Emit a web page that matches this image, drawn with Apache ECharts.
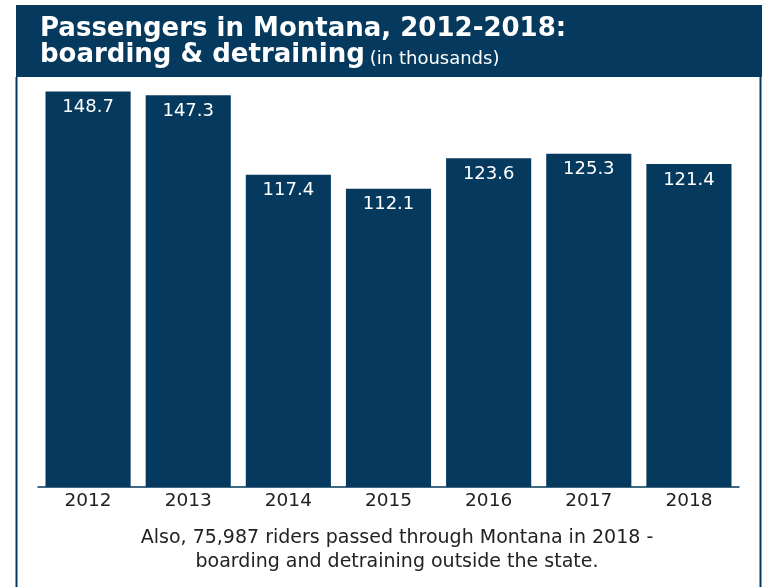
<!DOCTYPE html>
<html>
<head>
<meta charset="utf-8">
<script src="https://cdn.jsdelivr.net/npm/echarts@6/dist/echarts.min.js"></script>
<style>
  html, body { margin: 0; padding: 0; background: #ffffff; }
  #chart { width: 762px; height: 587px; }
</style>
</head>
<body>
<div id="chart"></div>
<script>
// Passenger counts (thousands) boarding & detraining in Montana
const years = ['2012', '2013', '2014', '2015', '2016', '2017', '2018'];
const passengers = [148.7, 147.3, 117.4, 112.1, 123.6, 125.3, 121.4];

const NAVY = '#053a5e';
const FONT = '"DejaVu Sans", Verdana, sans-serif';

const chart = echarts.init(document.getElementById('chart'), null, { renderer: 'canvas' });

chart.setOption({
  backgroundColor: '#ffffff',
  animation: false,
  title: {
    left: 35,
    top: 11,
    text: '{b|Passengers in Montana, 2012-2018:}\n{b|boarding & detraining} {s|(in thousands)}',
    textStyle: {
      rich: {
        b: { fontFamily: FONT, fontWeight: 'bold', fontSize: 26, color: '#ffffff', lineHeight: 26 },
        s: { fontFamily: FONT, fontWeight: 'normal', fontSize: 18, color: '#ffffff', lineHeight: 26, verticalAlign: 'bottom' }
      }
    },
    z: 10
  },
  graphic: [
    // header band
    { type: 'rect', shape: { x: 16, y: 5, width: 746, height: 72 }, style: { fill: NAVY }, z: 1 },
    // frame sides
    { type: 'line', shape: { x1: 16.5, y1: 77, x2: 16.5, y2: 587 }, style: { stroke: NAVY, lineWidth: 2 } },
    { type: 'line', shape: { x1: 760.5, y1: 77, x2: 760.5, y2: 587 }, style: { stroke: NAVY, lineWidth: 2 } },
    // footnote
    {
      type: 'text',
      x: 397, y: 550,
      style: {
        text: 'Also, 75,987 riders passed through Montana in 2018 -\nboarding and detraining outside the state.',
        align: 'center', verticalAlign: 'middle',
        font: '19px ' + FONT, fill: '#222222', lineHeight: 24
      }
    }
  ],
  grid: { left: 38, right: 23, top: 88, bottom: 100, containLabel: false },
  xAxis: {
    type: 'category',
    data: years,
    axisLine: { show: true, lineStyle: { color: NAVY, width: 1.5 } },
    axisTick: { show: false },
    axisLabel: { color: '#222222', fontFamily: FONT, fontSize: 18.5, margin: 5 }
  },
  yAxis: {
    type: 'value',
    min: 0,
    max: 150,
    show: false,
    splitLine: { show: false }
  },
  series: [{
    type: 'bar',
    data: passengers,
    barCategoryGap: '15%',
    itemStyle: { color: NAVY },
    label: {
      show: true,
      position: 'insideTop',
      distance: 7,
      color: '#ffffff',
      fontFamily: FONT,
      fontSize: 18,
      formatter: p => p.value.toFixed(1)
    }
  }]
});
</script>
</body>
</html>
